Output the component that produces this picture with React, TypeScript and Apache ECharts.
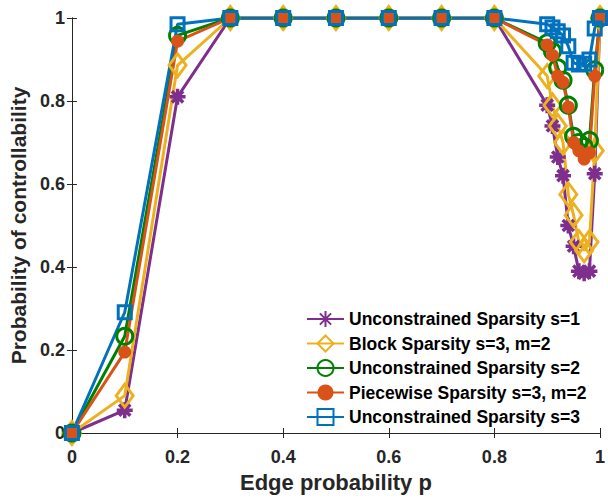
import React, { useEffect, useRef } from "react";
import * as echarts from "echarts";

const pValues = [0, 0.1, 0.2, 0.3, 0.4, 0.5, 0.6, 0.7, 0.8, 0.9, 0.91, 0.92, 0.93, 0.94, 0.95, 0.96, 0.97, 0.98, 0.99, 1.0];

const unconstrainedS1 = [0, 0.055, 0.81, 1, 1, 1, 1, 1, 1, 0.79, 0.74, 0.665, 0.62, 0.5, 0.45, 0.39, 0.385, 0.39, 0.625, 1.0];
const blockS3M2 = [0, 0.09, 0.886, 1, 1, 1, 1, 1, 1, 0.86, 0.79, 0.74, 0.7, 0.575, 0.525, 0.46, 0.44, 0.46, 0.68, 1.0];
const unconstrainedS2 = [0, 0.233, 0.958, 1, 1, 1, 1, 1, 1, 0.94, 0.92, 0.88, 0.85, 0.79, 0.715, 0.7, 0.69, 0.705, 0.875, 1.0];
const piecewiseS3M2 = [0, 0.195, 0.944, 1, 1, 1, 1, 1, 1, 0.935, 0.91, 0.86, 0.845, 0.785, 0.7, 0.68, 0.66, 0.675, 0.86, 1.0];
const unconstrainedS3 = [0, 0.291, 0.985, 1, 1, 1, 1, 1, 1, 0.985, 0.977, 0.968, 0.958, 0.932, 0.892, 0.888, 0.89, 0.9, 0.975, 1.0];

const seriesNames = [
  "Unconstrained Sparsity s=1",
  "Block Sparsity s=3, m=2",
  "Unconstrained Sparsity s=2",
  "Piecewise Sparsity s=3, m=2",
  "Unconstrained Sparsity s=3",
];

const xTitle = "Edge probability p";
const yTitle = "Probability of controllability";

const ASTERISK = "path://M0,-10L0,10M-10,0L10,0M-7,-7L7,7M-7,7L7,-7";

const FONT = "'Liberation Sans', Arial, Helvetica, sans-serif";
const AXIS_COLOR = "#262626";

export default function App() {
  const ref = useRef<HTMLDivElement>(null);

  useEffect(() => {
    if (!ref.current) return;
    const chart = echarts.init(ref.current, undefined, { renderer: "svg" });

    const toPairs = (vals: number[]) => pValues.map((p, i) => [p, vals[i]]);

    const mk = (
      name: string,
      vals: number[],
      color: string,
      symbol: string,
      symbolSize: number | number[],
      filled: boolean,
      borderWidth = 3
    ) => ({
      name,
      type: "line",
      data: toPairs(vals),
      symbol,
      symbolSize,
      showAllSymbol: true,
      lineStyle: { color, width: 3 },
      itemStyle: {
        color: filled ? color : "rgba(0,0,0,0)",
        borderColor: color,
        borderWidth: filled ? 0 : borderWidth,
      },
      emphasis: { disabled: true },
    });

    const axisCommon = {
      type: "value",
      min: 0,
      max: 1,
      interval: 0.2,
      axisLine: { show: true, lineStyle: { color: AXIS_COLOR, width: 1 } },
      axisTick: { show: true, inside: true, length: 5, lineStyle: { color: AXIS_COLOR } },
      splitLine: { show: false },
    };

    chart.setOption({
      animation: false,
      backgroundColor: "#ffffff",
      grid: { left: 69, right: 5, top: 18, bottom: 60, containLabel: false },
      xAxis: [
        {
          ...axisCommon,
          position: "bottom",
          name: xTitle,
          nameLocation: "middle",
          nameGap: 38,
          nameTextStyle: { fontFamily: FONT, fontWeight: "bold", fontSize: 22, color: AXIS_COLOR },
          axisLabel: { fontFamily: FONT, fontWeight: "bold", fontSize: 18, color: AXIS_COLOR, margin: 15 },
        },
        {
          ...axisCommon,
          position: "top",
          axisLabel: { show: false },
        },
      ],
      yAxis: [
        {
          ...axisCommon,
          position: "left",
          name: yTitle,
          nameLocation: "middle",
          nameGap: 34,
          nameTextStyle: { fontFamily: FONT, fontWeight: "bold", fontSize: 21, color: AXIS_COLOR },
          axisLabel: { fontFamily: FONT, fontWeight: "bold", fontSize: 18, color: AXIS_COLOR, margin: 7 },
        },
        {
          ...axisCommon,
          position: "right",
          axisLabel: { show: false },
        },
      ],
      legend: {
        left: 306,
        top: 310,
        orient: "vertical",
        itemWidth: 37,
        itemHeight: 20,
        itemGap: 6.5,
        padding: 0,
        textStyle: { fontFamily: FONT, fontWeight: "bold", fontSize: 17.5, color: "#000" },
        data: seriesNames,
      },
      series: [
        mk(seriesNames[0], unconstrainedS1, "#7E2F8E", ASTERISK, 16, false, 3.5),
        mk(seriesNames[1], blockS3M2, "#EDB120", "diamond", [17, 23], false),
        mk(seriesNames[2], unconstrainedS2, "#008000", "circle", 16, false),
        mk(seriesNames[3], piecewiseS3M2, "#D95319", "circle", 13, true),
        mk(seriesNames[4], unconstrainedS3, "#0072BD", "rect", 13, false),
      ],
    });

    return () => chart.dispose();
  }, []);

  return (
    <div
      ref={ref}
      style={{ position: "absolute", left: 0, top: 0, width: 608, height: 498, background: "#fff" }}
    />
  );
}
